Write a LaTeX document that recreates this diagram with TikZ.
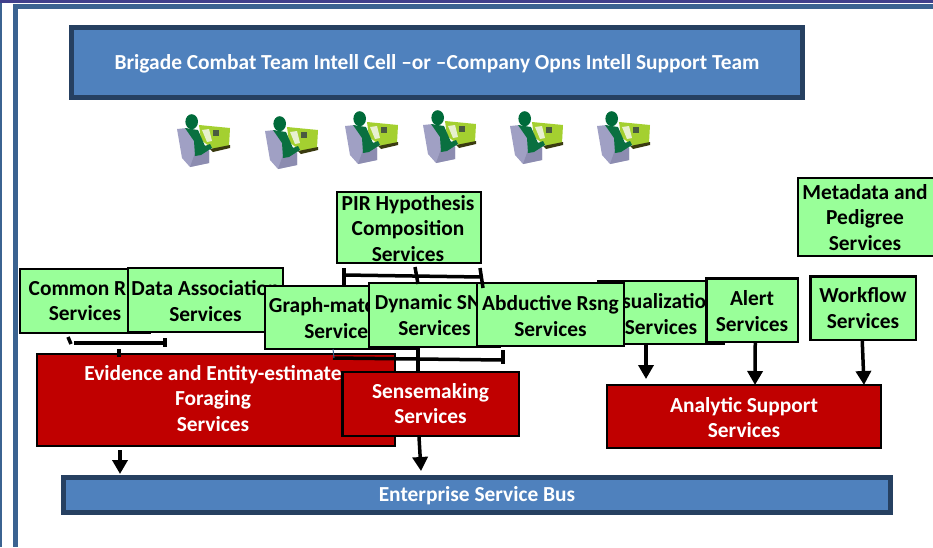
\documentclass[tikz,border=0pt]{standalone}
\usepackage{fontspec}
\setmainfont{Carlito}
\usetikzlibrary{arrows.meta}
\definecolor{gfill}{HTML}{99FF99}
\definecolor{rfill}{HTML}{C00000}
\definecolor{bfill}{HTML}{4F81BD}
\definecolor{bedge}{HTML}{264061}
\definecolor{frameblue}{HTML}{3B6391}
\definecolor{topband}{HTML}{40408C}
\definecolor{chairc}{HTML}{A0A0C4}
\definecolor{chaird}{HTML}{8C8CB0}
\definecolor{bodyc}{HTML}{0A7040}
\definecolor{headc}{HTML}{006B3A}
\definecolor{monc}{HTML}{A4D030}
\definecolor{basec}{HTML}{3A3A10}
\definecolor{scrc}{HTML}{E8F0D0}
\definecolor{sqc}{HTML}{4A5A40}
\tikzset{
  x=1pt,y=-1pt,
  greenbox/.style={draw=black,line width=2.2pt,fill=gfill,inner sep=0pt},
  redbox/.style={draw=black,line width=2.2pt,fill=rfill,inner sep=0pt},
  bluebox/.style={draw=bedge,line width=5.5pt,fill=bfill,inner sep=0pt},
  blacktext/.style={font=\fontsize{21.4}{25.7}\selectfont\bfseries,text=black,align=center,inner sep=0pt},
  whitetext/.style={font=\fontsize{21.4}{25.5}\selectfont\bfseries,text=white,align=center,inner sep=0pt},
  link/.style={draw=black,line width=3.5pt},
  flow/.style={draw=black,line width=3.5pt,-{Triangle[width=15pt,length=14pt]}},
  person/.pic={
    \fill[monc] (22,12) -- (53,15) -- (52,33) -- (36,36) -- (24,27) -- cycle;
    \fill[basec] (33,36) -- (53,32) -- (53,35) -- (36,39) -- cycle;
    \fill[scrc] (25,17) -- (32,16) -- (35,28) -- (30,29) -- cycle;
    \fill[sqc] (36,17) -- (42,17) -- (42,23) -- (36,23) -- cycle;
    \fill[chairc] (0,16) -- (10,15) -- (22,30) -- (32,34) -- (32,50) -- (13,54) -- (5,45) -- cycle;
    \fill[chaird] (18,40) -- (32,38) -- (32,50) -- (13,54) -- cycle;
    \fill[bodyc] (8,15) -- (21,17) -- (28,33) -- (33,31) -- (35,35) -- (24,42) -- (18,43) -- (17,28) -- cycle;
    \fill[headc] (14.7,8.7) ellipse (6.3 and 7.5);
  }
}
\newcommand{\servicebox}[6]{% style, name, x1, y1, x2, y2
  \node[#1,minimum width=#5-#3 pt,minimum height=#6-#4 pt] (#2) at ({(#3+#5)/2},{(#4+#6)/2}) {};
}
\begin{document}
\begin{tikzpicture}
\useasboundingbox (0,0) rectangle (933,547);
\fill[white] (0,0) rectangle (933,547);
% page frames
\fill[topband] (0,0) rectangle (933,3);
\fill[frameblue] (0,3) rectangle (2,547);
\fill[frameblue] (13,4) rectangle (933,9);
\fill[frameblue] (13,4) rectangle (18,547);
% top box
\servicebox{bluebox}{cell}{71.5}{27.5}{802.5}{97.5}
\node[whitetext] at (437,63.5) {Brigade Combat Team Intell Cell –or –Company Opns Intell Support Team};
% people
\foreach \px/\py in {177/113,265/115,345/110,423/109,510/110,597/110}
  \pic at (\px,\py) {person};
% green service boxes
\servicebox{greenbox}{pir}{337}{192}{481}{263}
\node[blacktext] at (408,228.5) {PIR Hypothesis\\Composition\\Services};
\servicebox{greenbox}{meta}{798}{178}{934}{256}
\node[blacktext] at (865,217.5) {Metadata and\\Pedigree\\Services};
\servicebox{greenbox}{common}{20}{269}{150}{333}
\node[blacktext] at (85,301) {Common R\rule{15pt}{0pt}\\Services};
\servicebox{greenbox}{data}{128}{268}{283}{332}
\node[blacktext] at (205.5,301) {Data Association\\Services};
\servicebox{greenbox}{graph}{265}{286}{416}{349}
\node[blacktext] at (340.5,318) {Graph-matc\phantom{hing}\\Services};
\servicebox{greenbox}{dynamic}{369}{283}{500}{347}
\node[blacktext] at (434.5,315) {Dynamic SN\phantom{A}\\Services};
\servicebox{greenbox}{vis}{598}{281}{724}{344}
\node[blacktext] at (661,314) {\phantom{Vi}sualization\\Services};
\servicebox{greenbox}{abduct}{477}{283}{624}{346}
\node[blacktext] at (550.5,316) {Abductive Rsng\\Services};
\servicebox{greenbox}{alert}{706.5}{278.5}{798}{342}
\node[blacktext] at (752,311) {Alert\\Services};
\servicebox{greenbox}{workflow}{810.5}{276.5}{916}{340}
\node[blacktext] at (863,308) {Workflow\\Services};
% red service boxes
\servicebox{redbox}{evidence}{37}{354}{395}{446}
\node[whitetext] at (213,398.5) {Evidence and Entity-estimate\\Foraging\\Services};
\servicebox{redbox}{sense}{342.5}{372}{519}{436}
\node[whitetext] at (430.5,403.5) {Sensemaking\\Services};
\servicebox{redbox}{analytic}{607}{385}{881}{448}
\node[whitetext] at (744,417.5) {Analytic Support\\Services};
% bus
\servicebox{bluebox}{bus}{63.5}{477.5}{890.5}{512.5}
\node[whitetext] at (477,495.5) {Enterprise Service Bus};
% connector joints
\coordinate (barAl) at (74,343);   \coordinate (barAr) at (165,343);
\coordinate (barBl) at (344,275);  \coordinate (barBr) at (482,277);
\coordinate (barCl) at (333,358);  \coordinate (barCr) at (503,360);
% bracket under Common / Data
\draw[link] (barAl) -- (barAr);
\draw[link] (68,337) -- (71,344);
\draw[link] (165,338) -- (165,347);
\draw[link] (119,349) -- (119,357);
\draw[flow] (120,450) -- (120,474);
% bracket under PIR
\draw[link] (barBl) -- (barBr);
\draw[link] (344,268) -- (344,286);
\draw[link] (415,267) -- (418,284);
\draw[link] (480,268) -- (483,288);
% bracket above Sensemaking
\draw[link] (barCl) -- (barCr);
\draw[draw=frameblue,line width=1pt] (333,349) -- (334,358);
\draw[link] (503,350) -- (503,364);
\draw[link] (418,347) -- (418,372);
\draw[flow] (419,437) -- (421,471);
% arrows into Analytic Support
\draw[flow] (646,345) -- (646,379);
\draw[flow] ([xshift=3pt]alert.south) -- (755,385);
\draw[flow] ([xshift=-1pt]workflow.south) -- (864,385);
\end{tikzpicture}
\end{document}
